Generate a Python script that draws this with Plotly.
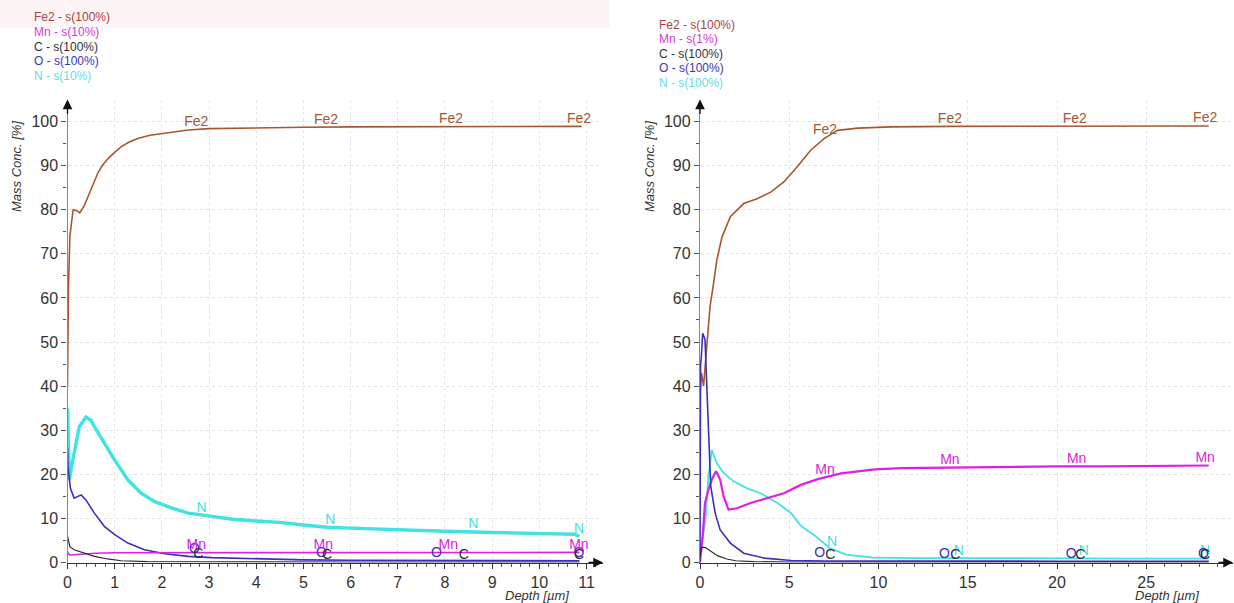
import numpy as np
import plotly.graph_objects as go

# ---------------- data: left panel ----------------
fe2_l_x = [0, 0.02, 0.05, 0.12, 0.2, 0.26, 0.35, 0.44, 0.55, 0.65, 0.75, 0.86, 1.0, 1.14, 1.3, 1.5, 1.75, 2.0, 2.3, 2.56, 3.0, 3.5, 4.0, 5.0, 6.0, 7.0, 8.0, 9.0, 10.0, 10.9]
fe2_l_y = [40, 62, 74, 80, 79.8, 79.3, 80.8, 83.1, 86.0, 88.5, 90.2, 91.6, 93.0, 94.3, 95.3, 96.2, 96.9, 97.3, 97.8, 98.1, 98.4, 98.5, 98.6, 98.7, 98.8, 98.8, 98.9, 98.9, 98.9, 98.9]

n_l_x = [0, 0.01, 0.04, 0.1, 0.15, 0.25, 0.39, 0.5, 0.57, 0.78, 1.0, 1.28, 1.56, 1.85, 2.2, 2.56, 3.06, 3.5, 4.0, 4.5, 5.0, 5.5, 6.0, 7.0, 8.0, 9.0, 10.0, 10.75, 10.85]
n_l_y = [35, 30, 18.7, 22.5, 25.5, 30.8, 33.0, 32.2, 30.8, 27.0, 23.2, 18.7, 15.7, 13.8, 12.4, 11.2, 10.4, 9.8, 9.4, 9.1, 8.5, 8.0, 7.8, 7.4, 7.1, 6.8, 6.6, 6.4, 5.9]

o_l_x = [0, 0.01, 0.06, 0.14, 0.22, 0.29, 0.39, 0.57, 0.78, 1.0, 1.28, 1.63, 2.06, 2.56, 3.06, 4.0, 5.0, 6.0, 8.0, 10.0, 10.85]
o_l_y = [26, 22, 16.9, 14.6, 15.0, 15.3, 14.2, 11.2, 8.2, 6.3, 4.4, 2.9, 2.0, 1.4, 1.1, 0.8, 0.6, 0.5, 0.45, 0.4, 0.4]

c_l_x = [0, 0.02, 0.05, 0.14, 0.35, 0.57, 0.85, 1.14, 1.7, 2.5, 4, 6, 8, 10.85]
c_l_y = [6, 5, 3.6, 2.9, 2.2, 1.4, 0.8, 0.4, 0.2, 0.15, 0.1, 0.1, 0.1, 0.1]

mn_l_x = [0, 0.02, 0.05, 0.2, 0.4, 0.6, 1.0, 2, 3, 5, 7, 9, 10.85]
mn_l_y = [2.5, 2.0, 1.7, 1.8, 2.0, 2.1, 2.2, 2.2, 2.2, 2.3, 2.3, 2.3, 2.3]

# ---------------- data: right panel ----------------
fe2_r_x = [0, 0.08, 0.2, 0.3, 0.45, 0.56, 0.75, 0.94, 1.23, 1.7, 2.45, 3.2, 3.96, 4.7, 5.46, 6.2, 6.97, 7.7, 8.85, 10.7, 14, 18, 22, 26, 28.5]
fe2_r_y = [38, 43, 40, 45, 52, 58, 63, 68.5, 73.8, 78.4, 81.4, 82.5, 84, 86.3, 89.8, 93.5, 96.2, 98, 98.5, 98.8, 98.9, 98.9, 99.0, 99.0, 99.0]

o_r_x = [0, 0.03, 0.08, 0.15, 0.28, 0.38, 0.47, 0.6, 0.85, 1.13, 1.7, 2.45, 3.6, 5.1, 7, 10, 15, 20, 25, 28.5]
o_r_y = [0, 44.6, 47, 52, 50.6, 40, 28.7, 17.3, 11.2, 7.4, 4.4, 2.1, 1.0, 0.45, 0.35, 0.3, 0.3, 0.3, 0.3, 0.3]

mn_r_x = [0, 0.15, 0.28, 0.47, 0.66, 0.9, 1.13, 1.32, 1.6, 2.07, 2.83, 3.77, 4.7, 5.65, 6.6, 7.9, 9.8, 11.3, 13, 15, 17.5, 20, 22.5, 25, 27, 28.5]
mn_r_y = [0, 6, 13.5, 16.5, 18.8, 20.7, 18.8, 15, 12, 12.3, 13.5, 14.6, 15.7, 17.6, 18.9, 20.2, 21.1, 21.4, 21.5, 21.6, 21.7, 21.8, 21.8, 21.9, 22.0, 22.0]

n_r_x = [0, 0.13, 0.32, 0.47, 0.66, 0.94, 1.32, 1.88, 2.64, 3.4, 4.34, 5.1, 5.65, 6.4, 7.3, 8.2, 9.7, 12, 16, 20, 24, 28.5]
n_r_y = [3.7, 5, 10.4, 19.5, 25.5, 22.5, 20.3, 18.4, 16.8, 15.7, 13.5, 11.2, 8.3, 6.2, 3.2, 1.8, 1.1, 1.0, 1.0, 0.9, 0.9, 0.9]

c_r_x = [0, 0.1, 0.3, 0.6, 1.0, 1.5, 2.0, 3.0, 5, 10, 20, 28.5]
c_r_y = [1.5, 3.5, 3.4, 2.5, 1.5, 0.8, 0.4, 0.2, 0.1, 0.1, 0.1, 0.1]

# label depths along curves
lab_l = {"Fe2": [2.73, 5.48, 8.13, 10.84], "Mn": [2.73, 5.42, 8.07, 10.84],
         "N": [2.84, 5.57, 8.6, 10.84], "O": [2.69, 5.38, 7.82, 10.84], "C": [2.77, 5.5, 8.4, 10.84]}
lab_r = {"Fe2": [7.0, 14.0, 21.0, 28.3], "Mn": [7.0, 14.0, 21.1, 28.3],
         "N": [7.4, 14.5, 21.5, 28.3], "O": [6.7, 13.7, 20.8, 28.2], "C": [7.3, 14.3, 21.3, 28.3]}

legend_l = ["Fe2 - s(100%)", "Mn - s(10%)", "C - s(100%)", "O - s(100%)", "N - s(10%)"]
legend_r = ["Fe2 - s(100%)", "Mn - s(1%)", "C - s(100%)", "O - s(100%)", "N - s(100%)"]

col = {"Fe2": "#a9562f", "Mn": "#e020e0", "C": "#2a2a2a", "O": "#3a30bc", "N": "#40e2e2"}
leg_col = ["#a8443f", "#d63ad6", "#333333", "#3a35b5", "#5de0e0"]

W, H = 1234, 603
fig = go.Figure()

left = {"Fe2": (fe2_l_x, fe2_l_y, 1.6), "N": (n_l_x, n_l_y, 3.4), "O": (o_l_x, o_l_y, 1.6),
        "Mn": (mn_l_x, mn_l_y, 1.6), "C": (c_l_x, c_l_y, 1.2)}
right = {"Fe2": (fe2_r_x, fe2_r_y, 1.6), "N": (n_r_x, n_r_y, 1.8), "Mn": (mn_r_x, mn_r_y, 2.2),
         "O": (o_r_x, o_r_y, 1.6), "C": (c_r_x, c_r_y, 1.2)}

for panel, labs, xa, ya in [(left, lab_l, "x", "y"), (right, lab_r, "x2", "y2")]:
    for name, (xs, ys, w) in panel.items():
        fig.add_trace(go.Scatter(x=xs, y=ys, mode="lines", line=dict(color=col[name], width=w),
                                 xaxis=xa, yaxis=ya, showlegend=False, hoverinfo="skip"))
    for name, (xs, ys, w) in panel.items():
        lx = labs[name]
        ly = list(np.interp(lx, xs, ys))
        fig.add_trace(go.Scatter(x=lx, y=ly, mode="text", text=[name] * len(lx),
                                 textposition="top center",
                                 textfont=dict(color=col[name], size=14, family="Liberation Sans, Arial"),
                                 xaxis=xa, yaxis=ya, showlegend=False, hoverinfo="skip"))

tickfont = dict(family="Liberation Sans, Arial", size=16, color="#333333")
ydom = [(603 - 562.5) / H, (603 - 99.5) / H]

def xaxis_cfg(domain, rng, dtick, minor, anchor):
    return dict(domain=domain, range=rng, dtick=dtick, tick0=0, anchor=anchor, automargin=False,
                showline=True, linecolor="#333333", linewidth=1.3,
                ticks="outside", ticklen=5, tickcolor="#333333", tickfont=tickfont,
                showgrid=True, gridcolor="#e4e4e4", griddash="dot", gridwidth=1,
                zeroline=False, minor=dict(dtick=minor, ticks="outside", ticklen=3, tickcolor="#555555", showgrid=False))

def yaxis_cfg(anchor):
    return dict(domain=ydom, range=[0, 105], anchor=anchor, automargin=False,
                showline=True, linecolor="#b47a5a", linewidth=1.3,
                ticks="outside", ticklen=5, tickcolor="#555555", tickfont=tickfont,
                showgrid=True, gridcolor="#e4e4e4", griddash="dot", gridwidth=1,
                zeroline=False, tickvals=list(range(0, 101, 10)),
                minor=dict(tickvals=list(range(5, 101, 10)), ticks="outside", ticklen=3, tickcolor="#555555", showgrid=False))

fig.update_layout(
    width=W, height=H, margin=dict(l=0, r=0, t=0, b=0, autoexpand=False),
    paper_bgcolor="white", plot_bgcolor="white",
    xaxis=xaxis_cfg([67.5 / W, 603 / W], [0, 11.35], 1, 0.2, "y"),
    yaxis=yaxis_cfg("x"),
    xaxis2=xaxis_cfg([700 / W, 1233 / W], [0, 29.86], 5, 1, "y2"),
    yaxis2=yaxis_cfg("x2"),
)

ann = []
# arrows at axis ends
for xr, yr in [("x", "y"), ("x2", "y2")]:
    ann.append(dict(x=0, y=1, xref=xr + " domain", yref=yr + " domain", ax=0, ay=16, text="",
                    showarrow=True, arrowhead=2, arrowsize=1.5, arrowwidth=1.3, arrowcolor="#111111"))
    ann.append(dict(x=1, y=0, xref=xr + " domain", yref=yr + " domain", ax=-16, ay=0, text="",
                    showarrow=True, arrowhead=2, arrowsize=1.5, arrowwidth=1.3, arrowcolor="#111111"))

# axis titles
ifont = dict(family="Liberation Sans, Arial", size=13, color="#333333", style="italic")
for xp in [17, 650]:
    ann.append(dict(x=xp / W, y=1 - 167 / H, xref="paper", yref="paper", text="Mass Conc. [%]",
                    textangle=-90, showarrow=False, font=ifont, xanchor="center", yanchor="middle"))
for xp in [537, 1167]:
    ann.append(dict(x=xp / W, y=1 - 595 / H, xref="paper", yref="paper", text="Depth [µm]",
                    showarrow=False, font=ifont, xanchor="center", yanchor="middle"))

# legends (colored text)
for x0, ys, texts in [(32, [17, 32, 46.5, 61, 75.5], legend_l), (657, [25, 39.5, 54, 68.5, 83], legend_r)]:
    for yy, t, c in zip(ys, texts, leg_col):
        ann.append(dict(x=x0 / W, y=1 - yy / H, xref="paper", yref="paper", text=t, showarrow=False,
                        font=dict(family="Liberation Sans, Arial", size=12, color=c),
                        xanchor="left", yanchor="middle"))

fig.update_layout(annotations=ann,
                  shapes=[dict(type="rect", xref="paper", yref="paper", x0=0, x1=610 / W,
                               y0=1 - 28 / H, y1=1, fillcolor="#fdf4f6", line=dict(width=0), layer="below")])

fig.write_html("out.html", config={"displayModeBar": False},
               post_script="document.body.style.margin='0';document.body.style.overflow='hidden';")
